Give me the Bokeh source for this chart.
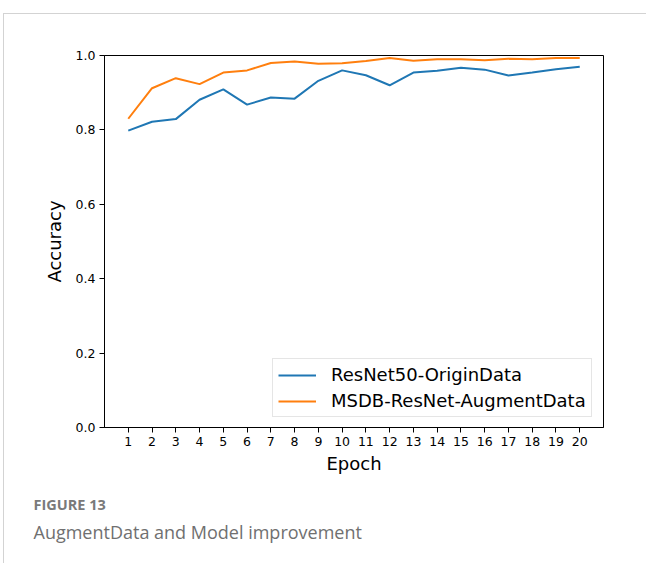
from bokeh.plotting import figure
from bokeh.models import (FixedTicker, NumeralTickFormatter, Legend, LegendItem,
                          Title, Range1d, ColumnDataSource)
from bokeh.embed import file_html
from bokeh.resources import INLINE

# Accuracy per training epoch
epochs = list(range(1, 21))
resnet50_origin = [0.798, 0.822, 0.829, 0.881, 0.909, 0.868, 0.887, 0.884, 0.932, 0.960,
                   0.947, 0.920, 0.954, 0.959, 0.967, 0.962, 0.946, 0.954, 0.963, 0.970]
msdb_augment = [0.830, 0.912, 0.939, 0.923, 0.954, 0.960, 0.980, 0.984, 0.978, 0.979,
                0.985, 0.993, 0.986, 0.990, 0.990, 0.987, 0.991, 0.990, 0.993, 0.993]
y_ticks = [0.0, 0.2, 0.4, 0.6, 0.8, 1.0]
series_names = ["ResNet50-OriginData", "MSDB-ResNet-AugmentData"]
caption_head = "FIGURE 13"
caption_text = "AugmentData and Model improvement"

src = ColumnDataSource(dict(epoch=epochs, a=resnet50_origin, b=msdb_augment))

FONT = "DejaVu Sans"

p = figure(width=642, height=549, output_backend="svg", toolbar_location=None,
           x_range=Range1d(0, 21), y_range=Range1d(0, 1.0),
           min_border_left=100, min_border_right=44, min_border_top=41,
           min_border_bottom=137)
p.margin = (13, 0, 0, 3)
p.styles = {"border-top": "1px solid #d3d3d3", "border-left": "1px solid #d3d3d3",
            "box-sizing": "content-box"}

p.xgrid.visible = False
p.ygrid.visible = False
p.outline_line_color = "black"
p.outline_line_width = 1
p.outline_line_alpha = 1.0

r1 = p.line("epoch", "a", source=src, line_color="#1f77b4", line_width=2)
r2 = p.line("epoch", "b", source=src, line_color="#ff7f0e", line_width=2)

for ax in (p.xaxis[0], p.yaxis[0]):
    ax.axis_line_color = "black"
    ax.major_tick_line_color = "black"
    ax.major_tick_in = 0
    ax.major_tick_out = 5
    ax.minor_tick_line_color = None
    ax.major_label_text_font = FONT
    ax.major_label_text_font_size = "12.5px"
    ax.major_label_text_color = "black"
    ax.axis_label_text_font = FONT
    ax.axis_label_text_font_size = "18px"
    ax.axis_label_text_font_style = "normal"
    ax.axis_label_text_color = "black"

p.xaxis.ticker = FixedTicker(ticks=epochs)
p.yaxis.ticker = FixedTicker(ticks=y_ticks)
p.yaxis.formatter = NumeralTickFormatter(format="0.0")
p.xaxis.axis_label = "Epoch"
p.yaxis.axis_label = "Accuracy"
p.xaxis.major_label_standoff = 4
p.yaxis.major_label_standoff = 4
p.xaxis.axis_label_standoff = 4
p.yaxis.axis_label_standoff = 8

legend = Legend(items=[LegendItem(label=series_names[0], renderers=[r1]),
                       LegendItem(label=series_names[1], renderers=[r2])],
                location=(168, 10), margin=0, padding=5, spacing=5,
                glyph_width=38, glyph_height=20, label_standoff=15,
                label_text_font=FONT, label_text_font_size="18px",
                label_text_color="black",
                border_line_color="#cccccc", border_line_width=1,
                background_fill_color="white", background_fill_alpha=0.8)
p.add_layout(legend)

# figure caption under the x axis
p.add_layout(Title(text=caption_head, align="left", offset=-71, standoff=33,
                   text_font="Open Sans", text_font_size="14.5px",
                   text_font_style="bold", text_color="#7a7a7a"), "below")
p.add_layout(Title(text=caption_text, align="left", offset=-71, standoff=-27,
                   text_font="Open Sans", text_font_size="18px",
                   text_font_style="normal", text_color="#707070"), "below")

open("out.html", "w").write(file_html(p, INLINE))
